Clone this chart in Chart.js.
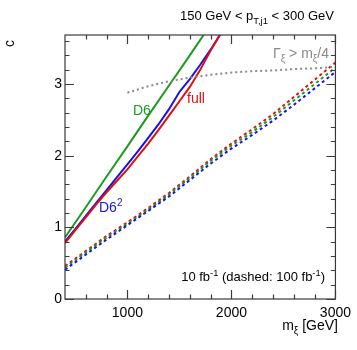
<!DOCTYPE html>
<html><head><meta charset="utf-8">
<script src="https://cdn.jsdelivr.net/npm/chart.js@4/dist/chart.umd.min.js"></script>
<style>html,body{margin:0;padding:0;background:#fff}</style>
</head><body>
<canvas id="c" width="357" height="350" style="display:block;width:357px;height:350px"></canvas>
<script>
// ---- data ----
const massSolid   = [400, 500, 600, 700, 800, 900, 1000, 1100, 1200, 1300, 1400, 1500, 1600, 1700, 1800, 1900];
const fullSolid   = [0.78, 0.96, 1.14, 1.32, 1.49, 1.65, 1.81, 1.99, 2.17, 2.36, 2.56, 2.76, 2.96, 3.20, 3.47, 3.71];
const d6sqSolid   = [0.80, 0.98, 1.16, 1.34, 1.52, 1.70, 1.88, 2.06, 2.25, 2.44, 2.65, 2.89, 3.07, 3.27, 3.48, 3.71];
const massD6      = [400, 600, 800, 1000, 1200, 1400, 1600, 1800];
const d6Solid     = [0.86, 1.28, 1.71, 2.13, 2.56, 2.98, 3.40, 3.83];
const massDashed  = [400, 600, 800, 1000, 1200, 1400, 1600, 1800, 2000, 2200, 2400, 2600, 2800, 3000];
const fullDashed  = [0.46, 0.67, 0.88, 1.07, 1.27, 1.48, 1.71, 1.95, 2.17, 2.37, 2.58, 2.82, 3.06, 3.30];
const d6Dashed    = [0.44, 0.65, 0.86, 1.05, 1.25, 1.46, 1.69, 1.93, 2.14, 2.33, 2.54, 2.77, 3.00, 3.23];
const d6sqDashed  = [0.41, 0.62, 0.83, 1.03, 1.23, 1.43, 1.66, 1.89, 2.10, 2.29, 2.49, 2.71, 2.94, 3.17];
const massWidth   = [1000, 1200, 1400, 1600, 1800, 2000, 2200, 2400, 2600, 2800, 3000];
const widthLimit  = [2.88, 2.97, 3.04, 3.09, 3.13, 3.16, 3.18, 3.19, 3.21, 3.22, 3.24];
const xTickValues = [1000, 2000, 3000];
const yTickValues = [0, 1, 2, 3];

const GREEN = '#1e9a1e', RED = '#e01010', BLUE = '#1414e6', GRAY = '#8a8a8a';
const FONT = '"Liberation Sans", Arial, Helvetica, sans-serif';

function pts(xs, ys) { return xs.map((x, i) => ({x: x, y: ys[i]})); }

function rich(ctx, parts, x, y, align, size, color) {
  const sizes = parts.map(p => p[1] ? size * 0.72 : size);
  let total = 0;
  const widths = parts.map((p, i) => { ctx.font = sizes[i] + 'px ' + FONT; const w = ctx.measureText(p[0]).width; total += w; return w; });
  let cx = align === 'right' ? x - total : (align === 'center' ? x - total / 2 : x);
  ctx.fillStyle = color;
  ctx.textBaseline = 'alphabetic';
  ctx.textAlign = 'left';
  parts.forEach((p, i) => {
    ctx.font = sizes[i] + 'px ' + FONT;
    const dy = p[1] === 1 ? size * 0.3 : (p[1] === 2 ? -size * 0.42 : 0);
    ctx.fillText(p[0], cx, y + dy);
    cx += widths[i];
  });
}

const framePlugin = {
  id: 'frame',
  afterDraw(chart) {
    const ctx = chart.ctx, a = chart.chartArea, xs = chart.scales.x, ys = chart.scales.y;
    ctx.save();
    ctx.strokeStyle = '#3a3a3a';
    ctx.lineWidth = 1.2;
    ctx.strokeRect(a.left, a.top, a.right - a.left, a.bottom - a.top);
    ctx.beginPath();
    for (let v = 600; v <= 3000; v += 200) {
      const px = Math.round(xs.getPixelForValue(v)) + 0.5;
      const L = (v % 1000 === 0) ? 9 : 4.5;
      ctx.moveTo(px, a.bottom); ctx.lineTo(px, a.bottom - L);
      ctx.moveTo(px, a.top); ctx.lineTo(px, a.top + L);
    }
    for (let k = 0; k <= 18; k++) {
      const v = k * 0.2;
      const py = Math.round(ys.getPixelForValue(v)) + 0.5;
      const L = (k % 5 === 0) ? 9 : 4.5;
      ctx.moveTo(a.left, py); ctx.lineTo(a.left + L, py);
      ctx.moveTo(a.right, py); ctx.lineTo(a.right - L, py);
    }
    ctx.stroke();

    // texts
    rich(ctx, [['150 GeV < p', 0], ['T,j1', 1], [' < 300 GeV', 0]], 334, 20, 'right', 13, '#000');
    rich(ctx, [['m', 0], ['ξ', 1], [' [GeV]', 0]], 338, 330, 'right', 14, '#000');
    ctx.save();
    ctx.translate(14, 40);
    ctx.rotate(-Math.PI / 2);
    rich(ctx, [['c', 0]], 0, 0, 'right', 14, '#000');
    ctx.restore();
    rich(ctx, [['Γ', 0], ['ξ', 1], [' > m', 0], ['ξ', 1], ['/4', 0]], 273, 58, 'left', 14, GRAY);
    rich(ctx, [['D6', 0]], 133, 115, 'left', 14, GREEN);
    rich(ctx, [['full', 0]], 187, 103, 'left', 14, RED);
    rich(ctx, [['D6', 0], ['2', 2]], 99, 212, 'left', 14, BLUE);
    rich(ctx, [['10 fb', 0], ['-1', 2], [' (dashed: 100 fb', 0], ['-1', 2], [')', 0]], 325, 281, 'right', 13, '#000');
    ctx.restore();
  }
};

const solid = (label, data, color) => ({label, data, borderColor: color, borderWidth: 2, pointRadius: 0, tension: 0, fill: false});
const dashed = (label, data, color) => ({label, data, borderColor: color, borderWidth: 2, borderDash: [3, 3], pointRadius: 0, tension: 0, fill: false});

new Chart(document.getElementById('c'), {
  type: 'line',
  data: {
    datasets: [
      {label: 'width', data: pts(massWidth, widthLimit), borderColor: GRAY, borderWidth: 2, borderDash: [2, 3], pointRadius: 0, fill: false},
      dashed('D6² 100', pts(massDashed, d6sqDashed), BLUE),
      dashed('D6 100', pts(massDashed, d6Dashed), GREEN),
      dashed('full 100', pts(massDashed, fullDashed), RED),
      solid('full', pts(massSolid, fullSolid), RED),
      solid('D6²', pts(massSolid, d6sqSolid), BLUE),
      solid('D6', pts(massD6, d6Solid), GREEN)
    ]
  },
  options: {
    responsive: false,
    animation: false,
    devicePixelRatio: 1,
    layout: {padding: {top: 35, right: 19, left: 0, bottom: 0}},
    plugins: {legend: {display: false}, tooltip: {enabled: false}, title: {display: false}},
    scales: {
      x: {
        type: 'linear', min: 400, max: 3000,
        grid: {display: false, drawTicks: false}, border: {display: false},
        afterBuildTicks: s => { s.ticks = xTickValues.map(v => ({value: v})); },
        afterFit: s => { s.height = 51; },
        ticks: {padding: 6, maxRotation: 0, color: '#000', font: {family: FONT, size: 14}, callback: v => String(v)}
      },
      y: {
        type: 'linear', min: 0, max: 3.685,
        grid: {display: false, drawTicks: false}, border: {display: false},
        afterBuildTicks: s => { s.ticks = yTickValues.map(v => ({value: v})); },
        afterFit: s => { s.width = 65; },
        ticks: {padding: 3, color: '#000', font: {family: FONT, size: 14}, callback: v => String(v)}
      }
    }
  },
  plugins: [framePlugin]
});
</script>
</body></html>
